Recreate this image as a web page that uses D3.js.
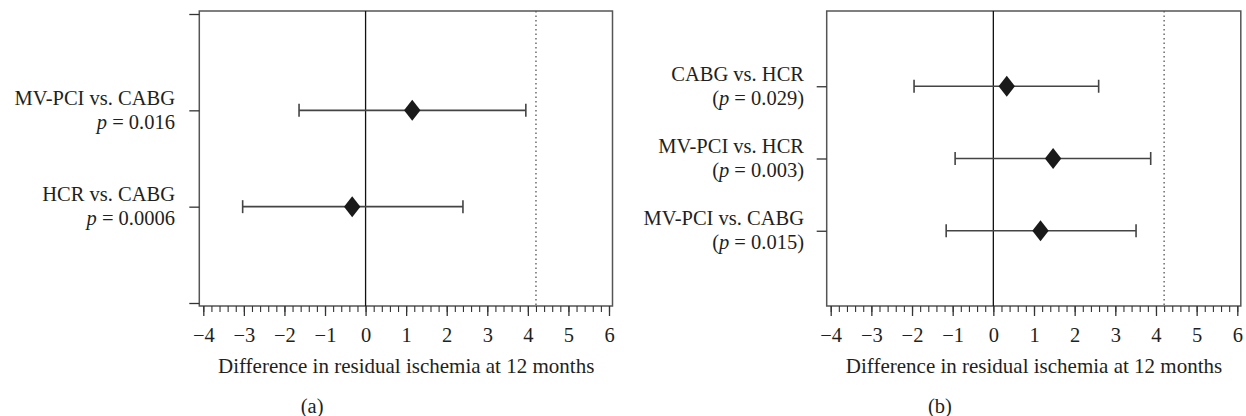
<!DOCTYPE html>
<html>
<head>
<meta charset="utf-8">
<script src="https://cdn.jsdelivr.net/npm/d3@7"></script>
<style>
  body { margin: 0; background: #fff; }
  svg text { font-family: "Liberation Serif", "Times New Roman", serif; fill: #231f20; }
</style>
</head>
<body>
<script>
// Panel (a) data
var labelsA = ["MV-PCI vs. CABG", "HCR vs. CABG"];
var pValuesA = ["0.016", "0.0006"];
var estA = [1.15, -0.33];
var lowA = [-1.64, -3.03];
var highA = [3.95, 2.40];
var rowsA = [2, 1];

// Panel (b) data
var labelsB = ["CABG vs. HCR", "MV-PCI vs. HCR", "MV-PCI vs. CABG"];
var pValuesB = ["0.029", "0.003", "0.015"];
var estB = [0.33, 1.47, 1.16];
var lowB = [-1.95, -0.94, -1.16];
var highB = [2.59, 3.87, 3.51];
var rowsB = [3, 2, 1];

// Axis stuff
var xTicks = [-4, -3, -2, -1, 0, 1, 2, 3, 4, 5, 6];
var refLine = 4.2;
var xTitle = "Difference in residual ischemia at 12 months";

var W = 1246, H = 416;
var fs = 20.5;

var svg = d3.select("body").append("svg")
    .attr("width", W)
    .attr("height", H);

function panel(opt) {
  var x = d3.scaleLinear().domain([-4, 6]).range([opt.x0, opt.x1]);
  var y = d3.scaleLinear().domain(opt.yDomain).range([303, 14]);
  var boxL = opt.x0 - 4, boxR = opt.x1 + 3.5, boxT = 11, boxB = 306;
  var g = svg.append("g");

  // box
  g.append("rect")
      .attr("x", boxL).attr("y", boxT)
      .attr("width", boxR - boxL).attr("height", boxB - boxT)
      .attr("fill", "none")
      .attr("stroke", "#555")
      .attr("stroke-width", 1.5);

  // zero line and dotted reference line
  g.append("line")
      .attr("x1", x(0)).attr("x2", x(0))
      .attr("y1", boxT).attr("y2", boxB)
      .attr("stroke", "#111").attr("stroke-width", 1.3);
  g.append("line")
      .attr("x1", x(refLine)).attr("x2", x(refLine))
      .attr("y1", boxT).attr("y2", boxB)
      .attr("stroke", "#555").attr("stroke-width", 1.3)
      .attr("stroke-dasharray", "1.5,3");

  // x axis minor ticks
  var minor = d3.range(-4, 6.001, 0.2);
  g.append("g")
      .attr("transform", "translate(0," + boxB + ")")
      .call(d3.axisBottom(x).tickValues(minor).tickSize(6).tickFormat(""))
      .call(function(s) { s.select(".domain").remove(); })
      .selectAll("line").attr("stroke", "#333").attr("stroke-width", 1.1);

  // x axis major ticks
  var xa = g.append("g")
      .attr("transform", "translate(0," + boxB + ")")
      .call(d3.axisBottom(x).tickValues(xTicks).tickSize(10).tickPadding(11))
      .call(function(s) { s.select(".domain").remove(); });
  xa.selectAll("line").attr("stroke", "#333").attr("stroke-width", 1.3);
  xa.selectAll("text")
      .style("font-family", "Liberation Serif, serif")
      .style("font-size", fs + "px")
      .attr("fill", "#231f20");

  // y axis ticks
  var ya = g.append("g")
      .attr("transform", "translate(" + boxL + ",0)")
      .call(d3.axisLeft(y).tickValues(opt.yTicks).tickSize(10).tickFormat(""))
      .call(function(s) { s.select(".domain").remove(); });
  ya.selectAll("line").attr("stroke", "#333").attr("stroke-width", 1.3);

  // y labels
  opt.rows.forEach(function(r, i) {
    var t1 = g.append("text")
        .attr("x", opt.labelX)
        .attr("y", y(r) - 5.5)
        .attr("text-anchor", "end")
        .style("font-size", fs + "px")
        .text(opt.labels[i]);
    var t2 = g.append("text")
        .attr("x", opt.labelX)
        .attr("y", y(r) + 18.5)
        .attr("text-anchor", "end")
        .style("font-size", fs + "px");
    if (opt.paren) t2.append("tspan").text("(");
    t2.append("tspan").style("font-style", "italic").text("p");
    t2.append("tspan").text(" = " + opt.pvals[i] + (opt.paren ? ")" : ""));
  });

  // whiskers
  opt.rows.forEach(function(r, i) {
    var cy = y(r);
    g.append("line")
        .attr("x1", x(opt.low[i])).attr("x2", x(opt.high[i]))
        .attr("y1", cy).attr("y2", cy)
        .attr("stroke", "#444").attr("stroke-width", 1.6);
    [opt.low[i], opt.high[i]].forEach(function(v) {
      g.append("line")
          .attr("x1", x(v)).attr("x2", x(v))
          .attr("y1", cy - 6.5).attr("y2", cy + 6.5)
          .attr("stroke", "#444").attr("stroke-width", 1.6);
    });
    g.append("path")
        .attr("d", "M" + x(opt.est[i]) + "," + (cy - 10.5) +
                   " L" + (x(opt.est[i]) + 8.2) + "," + cy +
                   " L" + x(opt.est[i]) + "," + (cy + 10.5) +
                   " L" + (x(opt.est[i]) - 8.2) + "," + cy + "Z")
        .attr("fill", "#1a1a1a");
  });

  // x title and panel letter
  g.append("text")
      .attr("x", (opt.x0 + opt.x1) / 2)
      .attr("y", 373)
      .attr("text-anchor", "middle")
      .style("font-size", "21px")
      .text(xTitle);
  g.append("text")
      .attr("x", (opt.x0 + opt.x1) / 2 - 94)
      .attr("y", 413)
      .attr("text-anchor", "middle")
      .style("font-size", fs + "px")
      .text(opt.letter);
}

panel({
  x0: 203.3, x1: 609, yDomain: [0, 3], yTicks: [0, 1, 2, 3],
  rows: rowsA, labels: labelsA, pvals: pValuesA, paren: false,
  est: estA, low: lowA, high: highA, labelX: 175, letter: "(a)"
});

panel({
  x0: 830.7, x1: 1237.3, yDomain: [0, 4], yTicks: [1, 2, 3],
  rows: rowsB, labels: labelsB, pvals: pValuesB, paren: true,
  est: estB, low: lowB, high: highB, labelX: 804, letter: "(b)"
});
</script>
</body>
</html>
